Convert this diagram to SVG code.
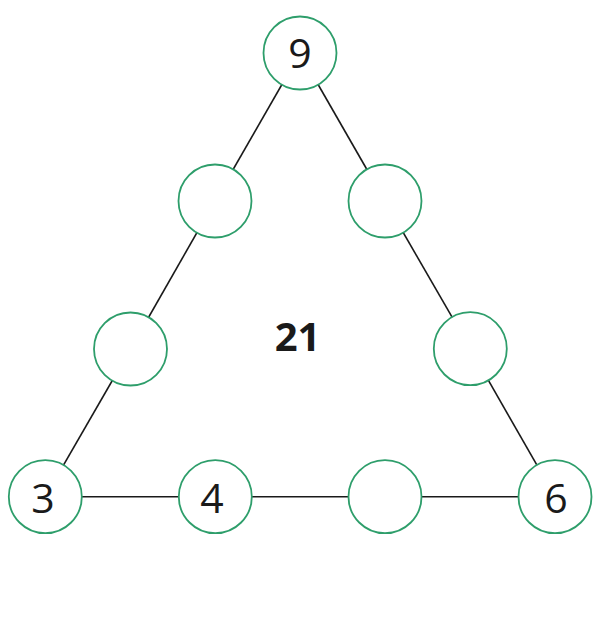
<svg xmlns="http://www.w3.org/2000/svg" width="600" height="631" viewBox="0 0 600 631">
<style>
.c{fill:#fff;stroke:#2e9e6b;stroke-width:1.8}
.e{stroke:#1a1a1a;stroke-width:1.6;fill:none}
.t{font-family:"Open Sans","Noto Sans",sans-serif;font-size:41px;fill:#1a1a1a;text-anchor:middle}
.b{font-family:"Open Sans","Noto Sans",sans-serif;font-size:40px;font-weight:bold;fill:#1a1a1a;text-anchor:middle}
</style>
<rect width="600" height="631" fill="#fff"/>
<g id="connectors">
<line class="e" x1="300" y1="53" x2="215" y2="201"/>
<line class="e" x1="215" y1="201" x2="130.5" y2="349"/>
<line class="e" x1="130.5" y1="349" x2="45.3" y2="496.7"/>
<line class="e" x1="300" y1="53" x2="385" y2="201"/>
<line class="e" x1="385" y1="201" x2="470.3" y2="348.7"/>
<line class="e" x1="470.3" y1="348.7" x2="555" y2="496.7"/>
<line class="e" x1="45.3" y1="496.7" x2="215.3" y2="496.7"/>
<line class="e" x1="215.3" y1="496.7" x2="385" y2="496.7"/>
<line class="e" x1="385" y1="496.7" x2="555" y2="496.7"/>
</g>
<g id="n-top"><circle class="c" cx="300" cy="53" r="36.5"/><text class="t" x="300" y="67.5">9</text></g>
<g id="n-l1"><circle class="c" cx="215" cy="201" r="36.5"/></g>
<g id="n-l2"><circle class="c" cx="130.5" cy="349" r="36.5"/></g>
<g id="n-bl"><circle class="c" cx="45.3" cy="496.7" r="36.5"/><text class="t" x="43" y="513">3</text></g>
<g id="n-r1"><circle class="c" cx="385" cy="201" r="36.5"/></g>
<g id="n-r2"><circle class="c" cx="470.3" cy="348.7" r="36.5"/></g>
<g id="n-br"><circle class="c" cx="555" cy="496.7" r="36.5"/><text class="t" x="556" y="513">6</text></g>
<g id="n-b1"><circle class="c" cx="215.3" cy="496.7" r="36.5"/><text class="t" x="212" y="513">4</text></g>
<g id="n-b2"><circle class="c" cx="385" cy="496.7" r="36.5"/></g>
<g id="sum"><text class="b" x="297.5" y="351">21</text></g>
</svg>
